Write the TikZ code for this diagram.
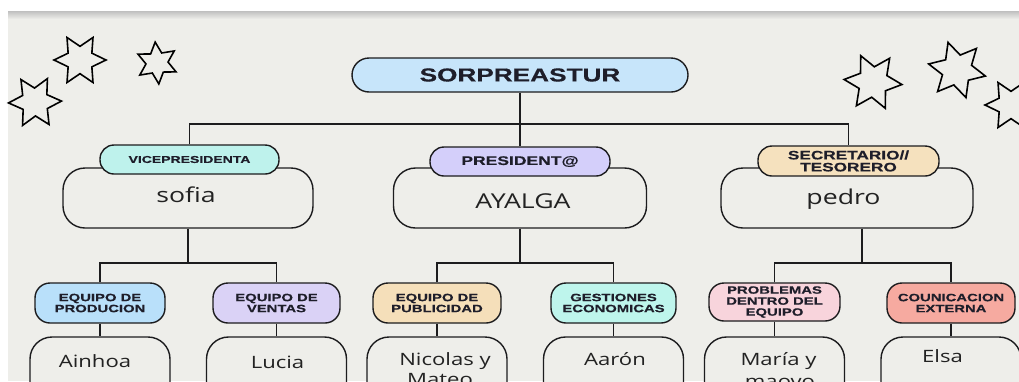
\documentclass[tikz,border=0pt]{standalone}
\usepackage{fontspec}
\usetikzlibrary{shapes.geometric}
\newfontfamily\lblfont[FakeStretch=1.4,FakeBold=0.5]{Liberation Sans Bold}
\newfontfamily\namefont[FakeStretch=1.3]{Open Sans}
\definecolor{bg}{RGB}{238,238,234}
\definecolor{linec}{RGB}{28,28,30}
\definecolor{txt}{RGB}{30,30,42}
\definecolor{ntxt}{RGB}{34,34,34}
\definecolor{cTop}{RGB}{199,229,250}
\definecolor{cVice}{RGB}{190,242,236}
\definecolor{cPres}{RGB}{212,207,250}
\definecolor{cSecr}{RGB}{245,225,190}
\definecolor{cProd}{RGB}{185,224,250}
\definecolor{cVent}{RGB}{218,210,246}
\definecolor{cPubl}{RGB}{245,223,186}
\definecolor{cGest}{RGB}{190,245,236}
\definecolor{cProb}{RGB}{248,212,220}
\definecolor{cCoun}{RGB}{246,170,160}
\begin{document}
\begin{tikzpicture}[x=1pt,y=-1pt,
  conn/.style={draw=linec, line width=1.4pt},
  bigbox/.style={draw=linec, line width=1.4pt, fill=bg, rounded corners=22pt, minimum width=250pt, minimum height=60pt, inner sep=0},
  lowbox/.style={draw=linec, line width=1.4pt, fill=bg, rounded corners=22pt, minimum width=140pt, minimum height=100pt, inner sep=0},
  pill/.style={draw=linec, line width=1.4pt, rounded corners=14pt, inner sep=0, align=center, text=txt},
  toplbl/.style={pill, minimum height=29pt},
  lowlbl/.style={pill, minimum height=40pt, rounded corners=15pt, font=\lblfont\fontsize{10.6}{11}\selectfont},
  nm/.style={anchor=base, inner sep=0, text=ntxt},
  bignm/.style={nm, font=\namefont\fontsize{20.5}{24}\selectfont},
  lownm/.style={nm, font=\namefont\fontsize{17}{21}\selectfont},
  starsh/.style={star, star points=6, star point ratio=1.9, draw=black, line width=1.6pt, inner sep=0}
]
\useasboundingbox (0,0) rectangle (1019,381);
\clip (0,0) rectangle (1019,381);
\fill[white] (0,0) rectangle (1019,381);
\fill[bg] (8,11) rectangle (1019,381);
\shade[top color=black!25, bottom color=bg] (8,11) rectangle (1019,19);

% stars
\node[starsh, minimum size=52pt, rotate=30] (st1) at (80,60) {};
\node[starsh, minimum size=42pt, rotate=5] (st2) at (157,63) {};
\node[starsh, minimum size=53pt, rotate=32] (st3) at (35,102) {};
\node[starsh, minimum size=58pt, rotate=25] (st4) at (873,82) {};
\node[starsh, minimum size=58pt, rotate=18] (st5) at (957,70) {};
\node[starsh, minimum size=52pt, rotate=30] (st6) at (1011,105) {};

% top
\node[pill, fill=cTop, minimum width=336pt, minimum height=34pt, rounded corners=17pt,
      font=\lblfont\fontsize{18.7}{20}\selectfont] (top) at (520,75) {SORPREASTUR};

% second level boxes
\node[bigbox] (sofia) at (188,198) {};
\node[bigbox, minimum width=253pt] (ayalga) at (520,198) {};
\node[bigbox, minimum width=252pt] (pedro) at (847,198) {};

\node[toplbl, fill=cVice, minimum width=179pt, font=\lblfont\fontsize{10}{11}\selectfont] (vlab) at (189.5,159.5) {VICEPRESIDENTA};
\node[toplbl, fill=cPres, minimum width=180pt, font=\lblfont\fontsize{12.5}{13}\selectfont] (plab) at (520,161.5) {PRESIDENT@};
\node[toplbl, fill=cSecr, minimum width=181pt, minimum height=30pt, font=\lblfont\fontsize{12.3}{12}\selectfont] (slab) at (848.5,161) {SECRETARIO//\\TESORERO};

\node[bignm] (nsofia) at (186,202) {sofia};
\node[bignm] (nayalga) at (523,208) {AYALGA};
\node[bignm] (npedro) at (843.5,204) {pedro};

% connectors level 1
\coordinate (hy) at (0,124);
\draw[conn] (top.south) -- (plab.north);
\draw[conn] (vlab.north) -- (vlab.north |- hy) -- (slab.north |- hy) -- (slab.north);

% third level labels
\node[lowlbl, fill=cProd, minimum width=130pt] (prod) at (100,303) {EQUIPO DE\\PRODUCION};
\node[lowlbl, fill=cVent, minimum width=127pt] (vent) at (276.5,303) {EQUIPO DE\\VENTAS};
\node[lowlbl, fill=cPubl, minimum width=128pt] (publ) at (437,303) {EQUIPO DE\\PUBLICIDAD};
\node[lowlbl, fill=cGest, minimum width=125pt] (gest) at (613.5,303) {GESTIONES\\ECONOMICAS};
\node[lowlbl, fill=cProb, minimum width=131pt, minimum height=38pt] (prob) at (774.5,302) {PROBLEMAS\\DENTRO DEL\\EQUIPO};
\node[lowlbl, fill=cCoun, minimum width=128pt] (coun) at (951,303) {COUNICACION\\EXTERNA};

% connectors level 2
\coordinate (r2) at (0,263);
\coordinate (pj) at (862,263);
\draw[conn] (sofia.south) -- (sofia.south |- r2);
\draw[conn] (prod.north) -- (prod.north |- r2) -- (vent.north |- r2) -- (vent.north);
\draw[conn] (ayalga.south) -- (ayalga.south |- r2);
\draw[conn] (publ.north) -- (publ.north |- r2) -- (gest.north |- r2) -- (gest.north);
\draw[conn] (pj |- pedro.south) -- (pj);
\draw[conn] (prob.north) -- (prob.north |- r2) -- (coun.north |- r2) -- (coun.north);

% bottom boxes
\node[lowbox] (ainhoa) at (100,387) {};
\node[lowbox] (lucia) at (276.5,387) {};
\node[lowbox] (nicolas) at (437,387) {};
\node[lowbox] (aaron) at (613.5,387) {};
\node[lowbox] (maria) at (774.5,387) {};
\node[lowbox] (elsa) at (951,387) {};

\draw[conn] (prod.south) -- (ainhoa.north);
\draw[conn] (vent.south) -- (lucia.north);
\draw[conn] (publ.south) -- (nicolas.north);
\draw[conn] (gest.south) -- (aaron.north);
\draw[conn] (prob.south) -- (maria.north);
\draw[conn] (coun.south) -- (elsa.north);

\node[lownm] (nainhoa) at (95,367) {Ainhoa};
\node[lownm] (nlucia) at (277.5,368) {Lucia};
\node[lownm] (nnic1) at (445,365) {Nicolas y};
\node[lownm] (nnic2) at (440,385) {Mateo};
\node[lownm] (naaron) at (615,365) {Aarón};
\node[lownm] (nmaria1) at (778.5,365) {María y};
\node[lownm] (nmaria2) at (780,387) {maovo};
\node[lownm] (nelsa) at (942.5,362) {Elsa};
\end{tikzpicture}
\end{document}
